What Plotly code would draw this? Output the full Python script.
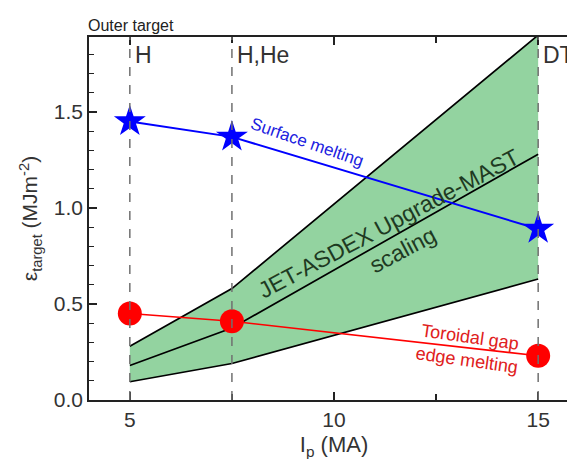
import plotly.graph_objects as go

# ---- data ----
ip_ma = [5, 7.5, 15]
surface_melting = [1.45, 1.37, 0.89]
toroidal_gap = [0.45, 0.41, 0.23]
scaling_upper = [0.28, 0.58, 1.90]
scaling_mid = [0.18, 0.375, 1.28]
scaling_lower = [0.095, 0.19, 0.63]
regime_x = [5, 7.5, 15]
regime_labels = ["H", "H,He", "DT"]
x_ticks = [5, 10, 15]
y_ticks = [0.0, 0.5, 1.0, 1.5]

FONT = "Liberation Sans, Arial, sans-serif"
GREEN = "#93d3a0"

fig = go.Figure()

# scaling band
fig.add_trace(go.Scatter(x=ip_ma, y=scaling_lower, mode="lines",
                         line=dict(color="black", width=1.7), showlegend=False))
fig.add_trace(go.Scatter(x=ip_ma, y=scaling_upper, mode="lines", fill="tonexty",
                         fillcolor=GREEN, line=dict(color="black", width=1.7),
                         showlegend=False))
fig.add_trace(go.Scatter(x=ip_ma, y=scaling_mid, mode="lines",
                         line=dict(color="black", width=1.7), showlegend=False))

# regime dashed lines
for rx in regime_x:
    fig.add_shape(type="line", x0=rx, x1=rx, y0=0, y1=1, xref="x", yref="paper",
                  line=dict(color="#707070", width=1.5, dash="dash"), layer="above")

# melting limits
fig.add_trace(go.Scatter(x=ip_ma, y=toroidal_gap, mode="lines+markers",
                         line=dict(color="#ff0000", width=1.6),
                         marker=dict(symbol="circle", size=24, color="#ff0000"),
                         showlegend=False))
fig.add_trace(go.Scatter(x=ip_ma, y=surface_melting, mode="lines+markers",
                         line=dict(color="#0000ff", width=2),
                         marker=dict(symbol="star", size=24, color="#0000ff"),
                         showlegend=False))

# regime labels
for rx, lab in zip(regime_x, regime_labels):
    fig.add_annotation(x=rx, y=1, xref="x", yref="paper", text=lab, showarrow=False,
                       xanchor="left", yanchor="top", xshift=3, yshift=-3,
                       font=dict(family=FONT, size=23, color="#333333"))

fig.add_annotation(x=0, y=1, xref="paper", yref="paper", text="Outer target",
                   showarrow=False, xanchor="left", yanchor="bottom", yshift=1,
                   xshift=-3,
                   font=dict(family=FONT, size=16, color="#222222"))

fig.add_annotation(x=9.35, y=1.34, text="Surface melting", showarrow=False,
                   textangle=19, font=dict(family=FONT, size=17, color="#2020e0"))
fig.add_annotation(x=11.5, y=0.85, text="JET-ASDEX Upgrade-MAST<br>scaling",
                   showarrow=False, textangle=-28,
                   font=dict(family=FONT, size=23, color="#1e3a22"))
fig.add_annotation(x=13.3, y=0.27, text="Toroidal gap<br>edge melting",
                   showarrow=False, textangle=8,
                   font=dict(family=FONT, size=18, color="#e02020"))

axis_common = dict(showgrid=False, zeroline=False, showline=True, linecolor="#222222",
                   linewidth=1.5, mirror="allticks", ticks="inside", ticklen=8,
                   tickwidth=1.5, tickcolor="#222222", automargin=False,
                   tickfont=dict(family=FONT, size=21, color="#333333"))

fig.update_xaxes(range=[4, 16], tickvals=x_ticks,
                 minor=dict(dtick=2.5, tick0=0, ticks="inside", ticklen=6,
                            tickwidth=1.5, tickcolor="#222222"),
                 title=dict(text="I<sub>p</sub> (MA)", standoff=7,
                            font=dict(family=FONT, size=22, color="#333333")),
                 **axis_common)
fig.update_yaxes(range=[0, 1.89], tickvals=y_ticks, tickformat=".1f",
                 minor=dict(dtick=0.1, tick0=0, ticks="inside", ticklen=5,
                            tickwidth=1.2, tickcolor="#222222"),
                 title=dict(text="ε<sub>target</sub> (MJm<sup>-2</sup>)", standoff=10,
                            font=dict(family=FONT, size=21, color="#333333")),
                 **axis_common)

# page body has an 8px default margin; margins compensate for it
fig.update_layout(width=575, height=459, autosize=False,
                  margin=dict(l=81, r=4, t=29, b=67),
                  paper_bgcolor="white", plot_bgcolor="white",
                  font=dict(family=FONT))

fig.write_html("out.html")
